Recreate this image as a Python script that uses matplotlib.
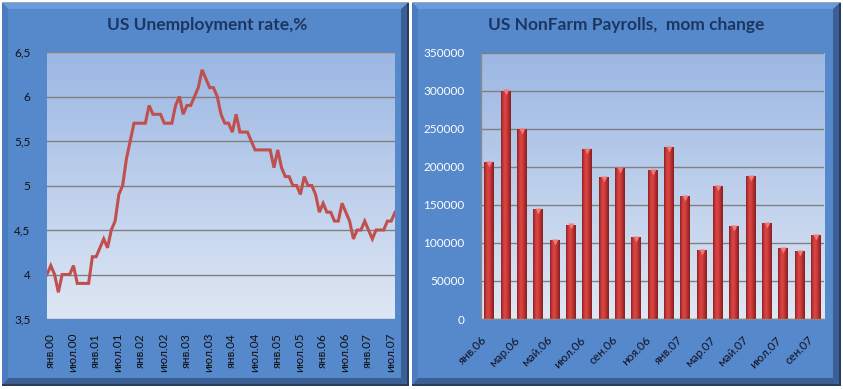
import numpy as np
import matplotlib
matplotlib.use("Agg")
import matplotlib.pyplot as plt
from matplotlib.colors import LinearSegmentedColormap
from matplotlib.patches import Polygon, Rectangle

plt.rcParams['font.family'] = ['Lato', 'DejaVu Sans']

# --- data ---
unemp = [4.0, 4.1, 4.0, 3.8, 4.0, 4.0, 4.0, 4.1, 3.9, 3.9, 3.9, 3.9,
         4.2, 4.2, 4.3, 4.4, 4.3, 4.5, 4.6, 4.9, 5.0, 5.3, 5.5, 5.7,
         5.7, 5.7, 5.7, 5.9, 5.8, 5.8, 5.8, 5.7, 5.7, 5.7, 5.9, 6.0,
         5.8, 5.9, 5.9, 6.0, 6.1, 6.3, 6.2, 6.1, 6.1, 6.0, 5.8, 5.7,
         5.7, 5.6, 5.8, 5.6, 5.6, 5.6, 5.5, 5.4, 5.4, 5.4, 5.4, 5.4,
         5.2, 5.4, 5.2, 5.1, 5.1, 5.0, 5.0, 4.9, 5.1, 5.0, 5.0, 4.9,
         4.7, 4.8, 4.7, 4.7, 4.6, 4.6, 4.8, 4.7, 4.6, 4.4, 4.5, 4.5,
         4.6, 4.5, 4.4, 4.5, 4.5, 4.5, 4.6, 4.6, 4.7]
unemp_ticklabels = ["янв.00", "июл.00", "янв.01", "июл.01", "янв.02", "июл.02",
                    "янв.03", "июл.03", "янв.04", "июл.04", "янв.05", "июл.05",
                    "янв.06", "июл.06", "янв.07", "июл.07"]
unemp_yticks = [3.5, 4, 4.5, 5, 5.5, 6, 6.5]

nfp = [206000, 300000, 249000, 144000, 104000, 124000, 223000, 186000,
       198000, 108000, 196000, 226000, 162000, 90000, 175000, 122000,
       188000, 126000, 93000, 89000, 110000]
nfp_ticklabels = ["янв.06", "мар.06", "май.06", "июл.06", "сен.06", "ноя.06",
                  "янв.07", "мар.07", "май.07", "июл.07", "сен.07"]
nfp_yticks = [0, 50000, 100000, 150000, 200000, 250000, 300000, 350000]

W, H = 843, 389
fig = plt.figure(figsize=(W / 100, H / 100), dpi=100)


def px(x, y):
    return (x / W, 1 - y / H)


def panel(x0, y0, x1, y1):
    kw = dict(closed=True, transform=fig.transFigure, edgecolor="none", zorder=-5)
    # main body
    fig.patches.append(Polygon([px(x0, y0), px(x1, y0), px(x1, y1), px(x0, y1)],
                               facecolor="#5689cc", **kw))
    b = 8
    # top highlight
    fig.patches.append(Polygon([px(x0, y0), px(x1, y0), px(x1 - b, y0 + 7), px(x0 + 6, y0 + 7)],
                               facecolor="#6a9bdc", **kw))
    # left edge
    fig.patches.append(Polygon([px(x0, y0), px(x0 + 6, y0 + 7), px(x0 + 6, y1 - b), px(x0, y1)],
                               facecolor="#4a7cbf", **kw))
    # right shadow
    fig.patches.append(Polygon([px(x1, y0), px(x1, y1), px(x1 - b, y1 - b), px(x1 - b, y0 + 7)],
                               facecolor="#3a5f95", **kw))
    # bottom shadow
    fig.patches.append(Polygon([px(x0, y1), px(x1, y1), px(x1 - b, y1 - b), px(x0 + 6, y1 - b)],
                               facecolor="#3b5f92", **kw))
    kw.pop("closed")
    # dark outer line on right / bottom, light line on top
    fig.patches.append(Rectangle(px(x1 - 2, y1), 2 / W, (y1 - y0) / H,
                                 facecolor="#263d5e", **kw))
    fig.patches.append(Rectangle(px(x0, y1), (x1 - x0) / W, 2 / H,
                                 facecolor="#263d5e", **kw))
    fig.patches.append(Rectangle(px(x0, y0 + 1), (x1 - x0) / W, 1 / H,
                                 facecolor="#9aa9bd", **kw))


panel(2, 2, 409, 386)
panel(412, 2, 841, 386)

bg_cmap = LinearSegmentedColormap.from_list("bg", ["#dfe7f4", "#9bb7e3"])
grad = np.linspace(0, 1, 256).reshape(-1, 1)


def plot_bg(ax):
    ax.imshow(grad, cmap=bg_cmap, extent=[0, 1, 0, 1], transform=ax.transAxes,
              origin="lower", aspect="auto", zorder=0)


# --- left: unemployment ---
ax1 = fig.add_axes([47 / W, 1 - 319 / H, 348 / W, 267 / H])
ax1.set_facecolor("none")
plot_bg(ax1)
x = np.arange(len(unemp))
ax1.plot(x, unemp, color="#c0504d", lw=2.2, zorder=3, solid_joinstyle="miter")
ax1.set_xlim(0, len(unemp) - 1)
ax1.set_ylim(3.5, 6.5)
ax1.set_yticks(unemp_yticks)
ax1.set_yticklabels([("%g" % v).replace(".", ",") for v in unemp_yticks])
ax1.set_xticks(np.arange(len(unemp_ticklabels)) * 6 + 0.8)
ax1.set_xticklabels(unemp_ticklabels, rotation=90)
ax1.tick_params(axis="both", length=0, labelsize=8.5, colors="#111111")
ax1.tick_params(axis="y", pad=12)
ax1.tick_params(axis="x", pad=10)
ax1.grid(axis="y", color="#808080", lw=1)
for s in ax1.spines.values():
    s.set_visible(False)
for gl in ax1.get_ygridlines():
    gl.set_zorder(1)
fig.text(207 / W, 1 - 25 / H, "US Unemployment rate,%", ha="center", va="center",
         fontsize=12.5, fontweight="bold", color="#1c3660")

# --- right: payrolls ---
ax2 = fig.add_axes([481 / W, 1 - 319 / H, 343 / W, 266.5 / H])
ax2.set_facecolor("none")
plot_bg(ax2)
xb = np.arange(len(nfp))
bars = ax2.bar(xb, nfp, width=0.6, color="#c0392f", zorder=3)
bar_cmap = LinearSegmentedColormap.from_list(
    "bar", ["#8a2222", "#c63737", "#dc4747", "#cc3a3a", "#a82b2b", "#862020"])
hgrad = np.linspace(0, 1, 64).reshape(1, -1)
for b in bars:
    bx, by, bw, bh = b.get_x(), b.get_y(), b.get_width(), b.get_height()
    im = ax2.imshow(hgrad, cmap=bar_cmap, extent=[bx, bx + bw, by, by + bh],
                    aspect="auto", zorder=4)
    im.set_clip_path(b)
    ax2.plot(bx + bw / 2, by + bh - 2500, marker="v", ms=5, color="#f07a7a",
             mec="none", zorder=5)
ax2.set_xlim(-0.5, len(nfp) - 0.5)
ax2.set_ylim(0, 350000)
ax2.set_yticks(nfp_yticks)
ax2.set_xticks(np.arange(len(nfp_ticklabels)) * 2)
ax2.set_xticklabels(nfp_ticklabels, rotation=45, ha="right")
ax2.tick_params(axis="both", length=0, labelsize=8.5)
ax2.tick_params(axis="y", pad=12, colors="white")
ax2.tick_params(axis="x", pad=11, colors="#111122")
ax2.grid(axis="y", color="#808080", lw=1)
for gl in ax2.get_ygridlines():
    gl.set_zorder(1)
for k, s in ax2.spines.items():
    if k in ("left", "bottom"):
        s.set_color("#8a8a8a")
        s.set_linewidth(1)
        s.set_zorder(6)
    else:
        s.set_visible(False)
fig.text(626 / W, 1 - 25 / H, "US NonFarm Payrolls,  mom change", ha="center",
         va="center", fontsize=12.5, fontweight="bold", color="#1c3660")

fig.savefig("out.png", dpi=100, facecolor="white")
